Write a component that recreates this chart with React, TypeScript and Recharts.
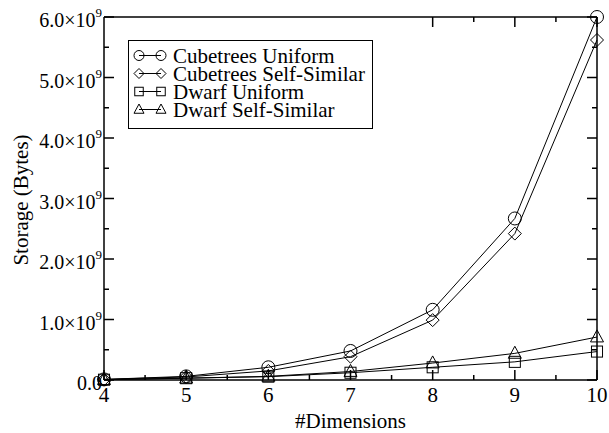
import React from 'react'
import { LineChart, Line, XAxis, YAxis, Legend, Label } from 'recharts'

const FONT = '"Liberation Serif", "Times New Roman", serif'
const textStyle = { fontFamily: FONT }

// number of dimensions on the x axis
const dimensions = [4, 5, 6, 7, 8, 9, 10]

// storage, in units of 10^9 bytes
const cubetreesUniform = [0.01, 0.06, 0.21, 0.48, 1.16, 2.67, 6.0]
const cubetreesSelfSimilar = [0.01, 0.05, 0.15, 0.385, 0.99, 2.42, 5.62]
const dwarfUniform = [0.005, 0.03, 0.055, 0.12, 0.21, 0.3, 0.47]
const dwarfSelfSimilar = [0.005, 0.03, 0.06, 0.14, 0.28, 0.44, 0.71]

const xTicks = [4, 4.5, 5, 5.5, 6, 6.5, 7, 7.5, 8, 8.5, 9, 9.5, 10]
const yTicks = [0, 0.5, 1, 1.5, 2, 2.5, 3, 3.5, 4, 4.5, 5, 5.5, 6]

type Shape = 'circle' | 'diamond' | 'square' | 'triangle'

const series: { key: string; name: string; shape: Shape; values: number[] }[] = [
  { key: 'cu', name: 'Cubetrees Uniform', shape: 'circle', values: cubetreesUniform },
  { key: 'css', name: 'Cubetrees Self-Similar', shape: 'diamond', values: cubetreesSelfSimilar },
  { key: 'du', name: 'Dwarf Uniform', shape: 'square', values: dwarfUniform },
  { key: 'dss', name: 'Dwarf Self-Similar', shape: 'triangle', values: dwarfSelfSimilar },
]

const data = dimensions.map((dim, i) => {
  const row: Record<string, number> = { dim }
  series.forEach((s) => (row[s.key] = s.values[i]))
  return row
})

function Marker({ shape, cx, cy, r }: { shape: Shape; cx: number; cy: number; r: number }) {
  const common = { fill: 'none', stroke: '#000', strokeWidth: 1 }
  switch (shape) {
    case 'circle':
      return <circle cx={cx} cy={cy} r={r} {...common} />
    case 'diamond':
      return <polygon points={`${cx},${cy - r} ${cx + r},${cy} ${cx},${cy + r} ${cx - r},${cy}`} {...common} />
    case 'square':
      return <rect x={cx - r * 0.85} y={cy - r * 0.85} width={r * 1.7} height={r * 1.7} {...common} />
    default:
      return (
        <polygon
          points={`${cx},${cy - r * 1.1} ${cx + r},${cy + r * 0.75} ${cx - r},${cy + r * 0.75}`}
          {...common}
        />
      )
  }
}

const isMajor = (v: number) => Number.isInteger(v)

const BottomTick = ({ x, y, payload }: any) => {
  const v = payload.value
  return (
    <g>
      <line x1={x} x2={x} y1={y} y2={y - (isMajor(v) ? 10 : 5)} stroke="#000" strokeWidth={1.5} />
      {isMajor(v) && (
        <text x={x} y={y + 22} textAnchor="middle" fontSize={21} style={textStyle} fill="#000">
          {v}
        </text>
      )}
    </g>
  )
}

const TopTick = ({ x, y, payload }: any) => (
  <line x1={x} x2={x} y1={y} y2={y + (isMajor(payload.value) ? 10 : 5)} stroke="#000" strokeWidth={1.5} />
)

const LeftTick = ({ x, y, payload }: any) => {
  const v = payload.value
  return (
    <g>
      <line x1={x} x2={x + (isMajor(v) ? 10 : 5)} y1={y} y2={y} stroke="#000" strokeWidth={1.5} />
      {isMajor(v) && (
        <text x={x - 2} y={y + 10} textAnchor="end" fontSize={20} style={textStyle} fill="#000">
          {v === 0 ? '0.0' : `${v.toFixed(1)}×10`}
          {v !== 0 && (
            <tspan dy={-10} fontSize={13}>
              9
            </tspan>
          )}
        </text>
      )}
    </g>
  )
}

const RightTick = ({ x, y, payload }: any) => (
  <line x1={x} x2={x - (isMajor(payload.value) ? 10 : 5)} y1={y} y2={y} stroke="#000" strokeWidth={1.5} />
)

const LegendBox = () => (
  <svg width={245} height={89} style={{ display: 'block' }}>
    <rect x={0.5} y={0.5} width={244} height={88} fill="#fff" stroke="#000" strokeWidth={1} />
    {series.map((s, i) => {
      const cy = 15.5 + i * 18
      return (
        <g key={s.key}>
          <line x1={11} x2={33} y1={cy} y2={cy} stroke="#000" strokeWidth={1} />
          <Marker shape={s.shape} cx={11} cy={cy} r={5} />
          <Marker shape={s.shape} cx={33} cy={cy} r={5} />
          <text x={45} y={cy + 7} fontSize={21} style={textStyle} fill="#000">
            {s.name}
          </text>
        </g>
      )
    })}
  </svg>
)

const axisLine = { stroke: '#000', strokeWidth: 1.5 }

export default function App() {
  return (
    <div
      style={{ position: 'absolute', left: 0, top: 0, width: 609, height: 433, background: '#fff', fontFamily: FONT }}
    >
      <LineChart width={609} height={433} data={data} margin={{ top: 0, right: 0, bottom: 0, left: 0 }}>
        <XAxis
          dataKey="dim"
          type="number"
          domain={[4, 10]}
          ticks={xTicks}
          interval={0}
          height={53}
          axisLine={axisLine}
          tickLine={false}
          tickSize={0}
          tickMargin={0}
          tick={<BottomTick />}
        >
          <Label
            content={() => (
              <text x={350.5} y={428} textAnchor="middle" fontSize={21} style={textStyle} fill="#000">
                #Dimensions
              </text>
            )}
          />
        </XAxis>
        <XAxis
          xAxisId="top"
          orientation="top"
          type="number"
          domain={[4, 10]}
          allowDataOverflow
          ticks={xTicks}
          interval={0}
          height={17}
          axisLine={axisLine}
          tickLine={false}
          tickSize={0}
          tickMargin={0}
          tick={<TopTick />}
        />
        <YAxis
          type="number"
          domain={[0, 6]}
          ticks={yTicks}
          interval={0}
          width={104}
          axisLine={axisLine}
          tickLine={false}
          tickSize={0}
          tickMargin={0}
          tick={<LeftTick />}
        >
          <Label
            content={() => (
              <text
                x={28}
                y={200}
                transform="rotate(-90 28 200)"
                textAnchor="middle"
                fontSize={21}
                style={textStyle}
                fill="#000"
              >
                Storage (Bytes)
              </text>
            )}
          />
        </YAxis>
        <YAxis
          yAxisId="right"
          orientation="right"
          type="number"
          domain={[0, 6]}
          allowDataOverflow
          ticks={yTicks}
          interval={0}
          width={12}
          axisLine={axisLine}
          tickLine={false}
          tickSize={0}
          tickMargin={0}
          tick={<RightTick />}
        />
        <Legend
          layout="horizontal"
          verticalAlign="middle"
          align="center"
          wrapperStyle={{ left: 128, top: 40, width: 'auto', height: 'auto' }}
          content={() => <LegendBox />}
        />
        {series.map((s) => (
          <Line
            key={s.key}
            dataKey={s.key}
            name={s.name}
            type="linear"
            stroke="#000"
            strokeWidth={1}
            isAnimationActive={false}
            activeDot={false}
            dot={(p: any) => <Marker key={`${s.key}-${p.index}`} shape={s.shape} cx={p.cx} cy={p.cy} r={6.5} />}
          />
        ))}
      </LineChart>
    </div>
  )
}
